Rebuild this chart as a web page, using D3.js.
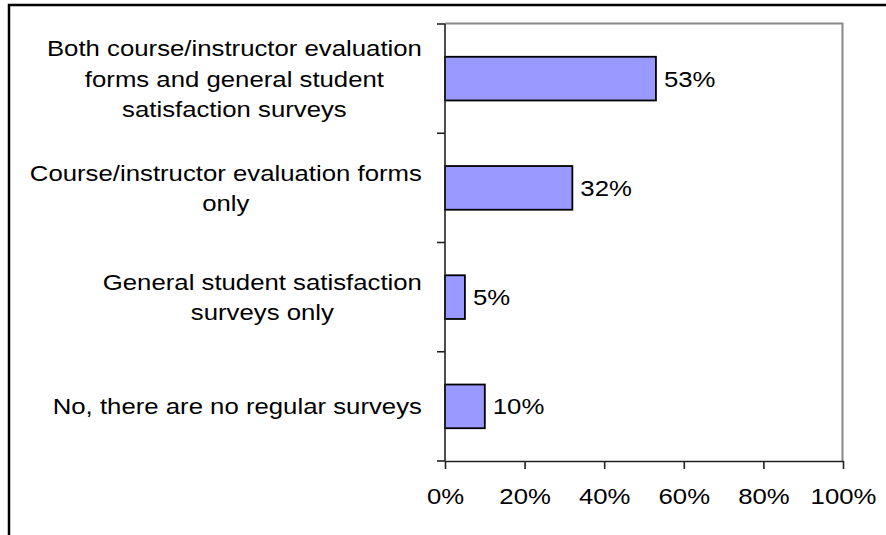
<!DOCTYPE html>
<html>
<head>
<meta charset="utf-8">
<script src="https://cdn.jsdelivr.net/npm/d3@7"></script>
<style>
  html, body { margin: 0; padding: 0; background: #fff; }
  svg { display: block; }
  text { font-family: "Liberation Sans", Arial, sans-serif; fill: #000; }
</style>
</head>
<body>
<script>
// ---- data ----
const categories = [
  "Both course/instructor evaluation\nforms and general student\nsatisfaction surveys",
  "Course/instructor evaluation forms\nonly",
  "General student satisfaction\nsurveys only",
  "No, there are no regular surveys"
];
const values = [0.53, 0.32, 0.05, 0.10];
const xTicks = [0, 0.2, 0.4, 0.6, 0.8, 1.0];

// ---- layout ----
const W = 886, H = 535;
const plot = { left: 445, right: 843, top: 24, bottom: 461 };
const fontSize = 23, sx = 1.12, lineH = 30.5;

const svg = d3.select("body").append("svg").attr("width", W).attr("height", H);

// outer frame (extends past right/bottom edges)
svg.append("rect")
  .attr("x", 9).attr("y", 5).attr("width", 1000).attr("height", 1000)
  .attr("fill", "none").attr("stroke", "#000").attr("stroke-width", 2.5);

const x = d3.scaleLinear().domain([0, 1]).range([plot.left, plot.right]);
const y = d3.scaleBand().domain(categories).range([plot.top, plot.bottom])
  .paddingInner(0.6).paddingOuter(0.3);

// plot area border (top & right gray)
svg.append("path")
  .attr("d", `M${plot.left},${plot.top - 0.5}H${plot.right - 0.5}V${plot.bottom}`)
  .attr("fill", "none").attr("stroke", "#888").attr("stroke-width", 2);

// bars
svg.append("g").selectAll("rect").data(categories).join("rect")
  .attr("x", x(0))
  .attr("y", d => y(d))
  .attr("width", (d, i) => x(values[i]) - x(0))
  .attr("height", y.bandwidth())
  .attr("fill", "#9999FF")
  .attr("stroke", "#000").attr("stroke-width", 1.8);

// x axis
const xAxis = svg.append("g").attr("transform", `translate(0,${plot.bottom})`)
  .call(d3.axisBottom(x).tickValues(xTicks).tickFormat(d3.format(".0%"))
    .tickSize(8).tickSizeOuter(0));
xAxis.select(".domain").attr("stroke", "#222").attr("stroke-width", 1.6);
xAxis.selectAll(".tick line").attr("stroke", "#222").attr("stroke-width", 1.6);
xAxis.selectAll(".tick text")
  .attr("font-size", fontSize)
  .attr("dy", null)
  .attr("y", 0)
  .attr("transform", `translate(0,43) scale(${sx},1)`);

// y axis line + boundary ticks
const yAxis = svg.append("g");
yAxis.append("line")
  .attr("x1", plot.left).attr("x2", plot.left)
  .attr("y1", plot.top).attr("y2", plot.bottom)
  .attr("stroke", "#222").attr("stroke-width", 1.6);
const step = y.step();
const bounds = d3.range(categories.length + 1).map(i => y.range()[0] + i * step);
yAxis.selectAll(".yt").data(bounds).join("line")
  .attr("x1", plot.left - 8).attr("x2", plot.left)
  .attr("y1", d => d).attr("y2", d => d)
  .attr("stroke", "#222").attr("stroke-width", 1.6);

// category labels (centered block, right edge at 422)
const labelRight = 422;
categories.forEach(cat => {
  const lines = cat.split("\n");
  const cy = y(cat) + y.bandwidth() / 2;
  const g = svg.append("g");
  const texts = lines.map((ln, i) => g.append("text")
    .attr("font-size", fontSize)
    .attr("text-anchor", "middle")
    .text(ln)
    .datum(cy + 8 + (i - (lines.length - 1) / 2) * lineH));
  const maxW = d3.max(texts, t => t.node().getComputedTextLength()) * sx;
  const cx = labelRight - maxW / 2;
  texts.forEach(t => t.attr("transform", d => `translate(${cx},${d}) scale(${sx},1)`));
});

// value labels
svg.append("g").selectAll("text").data(categories).join("text")
  .attr("font-size", fontSize)
  .attr("transform", (d, i) => `translate(${x(values[i]) + 8},${y(d) + y.bandwidth() / 2 + 8}) scale(${sx},1)`)
  .text((d, i) => d3.format(".0%")(values[i]));
</script>
</body>
</html>
